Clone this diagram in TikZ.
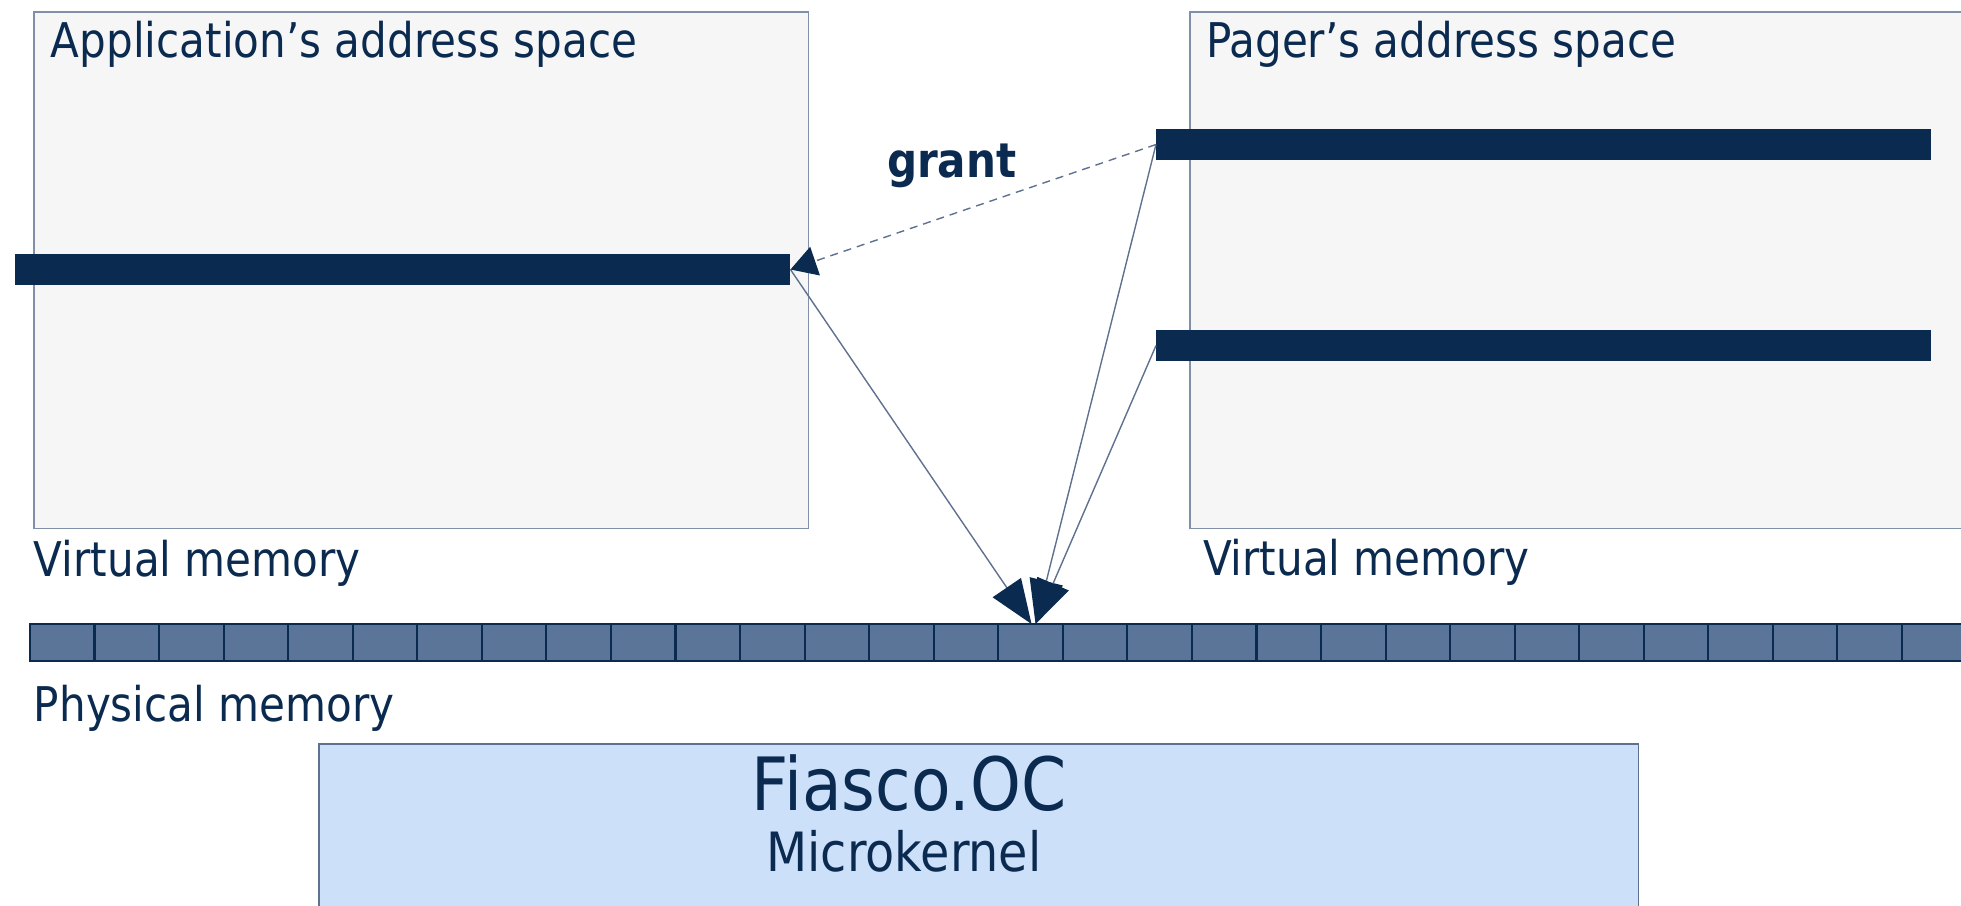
\documentclass[tikz,border=0pt]{standalone}
\usepackage{fontspec}
\setmainfont{DejaVu Sans}[FakeStretch=0.88]
\usetikzlibrary{arrows.meta,positioning}
\definecolor{navy}{RGB}{11,42,80}
\definecolor{cellblue}{RGB}{91,117,153}
\definecolor{spacegray}{RGB}{246,246,246}
\definecolor{framegray}{RGB}{128,144,168}
\definecolor{kernelblue}{RGB}{204,224,250}
\definecolor{linegray}{RGB}{94,114,144}
\newcommand{\basefont}{\fontsize{13.6}{16}\selectfont}
\tikzset{
    every picture/.style={
        x=0.01cm,y=-0.01cm,>={Triangle[length=0.44cm,width=0.34cm,color=navy]},
        every node/.style={inner sep=0,outer sep=0,text=navy,font=\basefont},
        space/.style={draw=framegray,fill=spacegray,line width=0.35pt,minimum width=7.74cm,minimum height=5.16cm,anchor=north west},
        kernel/.style={draw=linegray,fill=kernelblue,line width=0.35pt,minimum width=13.19cm,minimum height=2.2cm,anchor=north west},
        bar/.style={fill=navy,minimum width=7.75cm,minimum height=0.31cm,anchor=north west},
        cell/.style={draw=navy,fill=cellblue,line width=0.6pt,minimum width=0.6455cm,minimum height=0.37cm,anchor=north west},
        txt/.style={anchor=base west},
        map/.style={color=linegray,line width=0.4pt}
    }
}

\begin{document}
\begin{tikzpicture}
    \useasboundingbox (0,0) rectangle (1961,905);
    \node[space]  (app)   at (34,12)   {};
    \node[space,minimum width=7.85cm] (pager) at (1190,12) {};
    \node[txt]    (appname)   at (51,57)   {Application’s address space};
    \node[txt]    (pagername) at (1206,57) {Pager’s address space};
    \node[bar]    (abar)  at (15,254)   {};
    \node[bar]    (pbar1) at (1156,129) {};
    \node[bar]    (pbar2) at (1156,330) {};
    \node[txt]    (appvm)   at (34,576)   {Virtual memory};
    \node[txt]    (pagervm) at (1203,575) {Virtual memory};
    \foreach \i in {0,...,29}
        \node[cell] (c\i) at ({30+64.55*\i},624) {};
    \node[txt]    (phys)  at (34,721) {Physical memory};
    \node[kernel] (kern)  at (319,744) {};
    \node[anchor=base,font=\fontsize{20.9}{24}\selectfont] (fiasco) at (909,810) {Fiasco.OC};
    \node[anchor=base,font=\fontsize{15.4}{18}\selectfont] (ukern) at (904,871) {Microkernel};
    \node[txt,font=\basefont\bfseries] (grant) at (887,177) {grant};
    \path[->,map] (abar.east) edge ([xshift=0.01cm]c15.north)
             (pbar1.west) edge ([xshift=0.05cm]c15.north)
             (pbar2.west) edge ([xshift=0.05cm]c15.north)
             (pbar1.west) edge [-{Triangle[length=0.26cm,width=0.3cm,color=navy]},dash pattern=on 0.08cm off 0.06cm] (abar.east)
             ;
\end{tikzpicture}
\end{document}
